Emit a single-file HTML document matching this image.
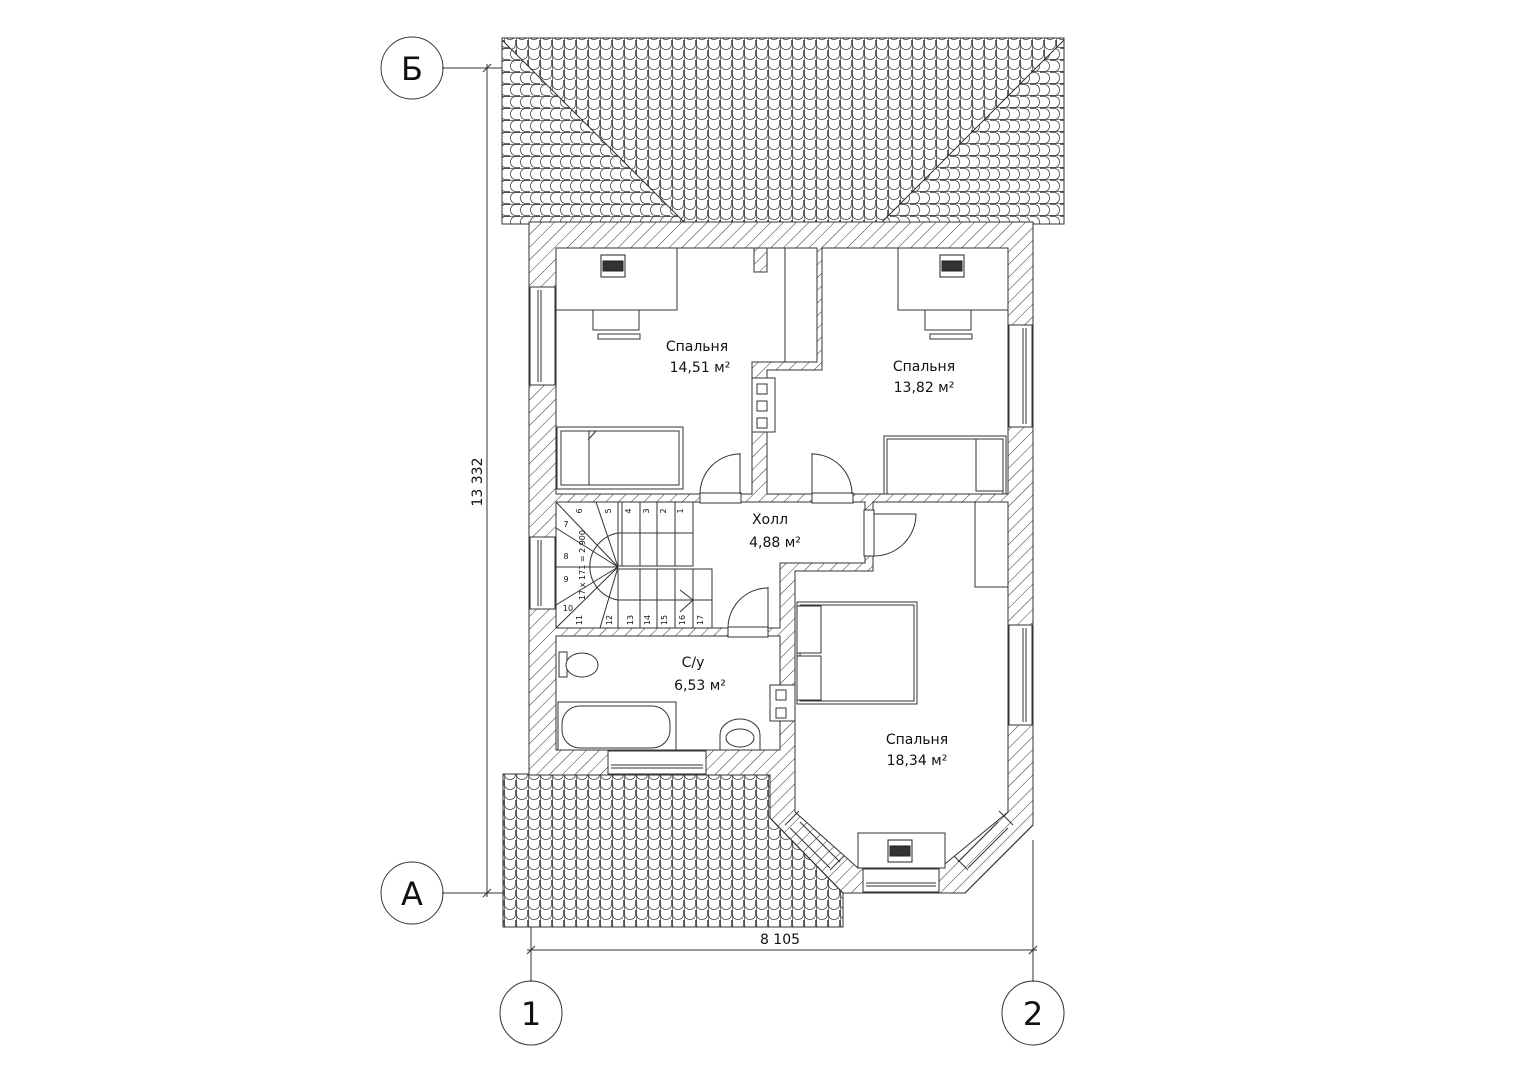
<!DOCTYPE html>
<html><head><meta charset="utf-8"><style>
html,body{margin:0;padding:0;background:#fff}
svg{display:block}
text{font-family:"DejaVu Sans","Liberation Sans",sans-serif;fill:#111}
</style></head><body>
<svg width="1528" height="1080" viewBox="0 0 1528 1080" xmlns="http://www.w3.org/2000/svg">
<defs>
<pattern id="h" width="9" height="9" patternUnits="userSpaceOnUse" patternTransform="rotate(45)">
<line x1="0" y1="0" x2="0" y2="9" stroke="#333" stroke-width="1"/>
</pattern>
<pattern id="t" width="12" height="10" patternUnits="userSpaceOnUse">
<rect width="12" height="10" fill="#fff"/>
<path d="M0.5 0 V4.5 A5.5 5 0 0 0 11.5 4.5 V0" fill="none" stroke="#444" stroke-width="0.8"/>
<line x1="0.5" y1="0" x2="0.5" y2="10" stroke="#444" stroke-width="0.7"/>
</pattern>
<pattern id="tr" width="12" height="10" patternUnits="userSpaceOnUse" patternTransform="rotate(-90)">
<rect width="12" height="10" fill="#fff"/>
<path d="M0.5 0 V4.5 A5.5 5 0 0 0 11.5 4.5 V0" fill="none" stroke="#444" stroke-width="0.8"/>
<line x1="0.5" y1="0" x2="0.5" y2="10" stroke="#444" stroke-width="0.7"/>
</pattern>
<pattern id="tl" width="12" height="10" patternUnits="userSpaceOnUse" patternTransform="rotate(90)">
<rect width="12" height="10" fill="#fff"/>
<path d="M0.5 0 V4.5 A5.5 5 0 0 0 11.5 4.5 V0" fill="none" stroke="#444" stroke-width="0.8"/>
<line x1="0.5" y1="0" x2="0.5" y2="10" stroke="#444" stroke-width="0.7"/>
</pattern>
</defs>

<!-- grid/dims -->
<g stroke="#333" stroke-width="1" fill="none">
<line x1="442" y1="68" x2="530" y2="68"/>
<line x1="442" y1="893" x2="530" y2="893"/>
<line x1="487" y1="64" x2="487" y2="897"/>
<line x1="483" y1="72" x2="491" y2="64"/><line x1="483" y1="897" x2="491" y2="889"/>
<line x1="531" y1="925" x2="531" y2="982"/>
<line x1="1033" y1="840" x2="1033" y2="982"/>
<line x1="527" y1="950" x2="1037" y2="950"/>
<line x1="527" y1="954" x2="535" y2="946"/><line x1="1029" y1="954" x2="1037" y2="946"/>
<circle cx="412" cy="68" r="31"/>
<circle cx="412" cy="893" r="31"/>
<ellipse cx="531" cy="1013" rx="31" ry="32"/>
<ellipse cx="1033" cy="1013" rx="31" ry="32"/>
</g>
<text x="412" y="80" font-size="32" text-anchor="middle">Б</text>
<text x="412" y="905" font-size="32" text-anchor="middle">А</text>
<text x="531" y="1025" font-size="32" text-anchor="middle">1</text>
<text x="1033" y="1025" font-size="32" text-anchor="middle">2</text>
<text x="780" y="944" font-size="14" text-anchor="middle">8 105</text>
<text x="0" y="0" font-size="14" text-anchor="middle" transform="translate(482,482) rotate(-90)">13 332</text>

<!-- top roof -->
<rect x="502" y="38" width="562" height="186" fill="url(#t)" stroke="#333"/>
<polygon points="502,40 686,224 502,224" fill="url(#tl)" stroke="#333"/>
<polygon points="1064,40 880,224 1064,224" fill="url(#tr)" stroke="#333"/>
<!-- bottom roof -->
<polygon points="503,774 770,774 770,818 843,893 843,927 503,927" fill="url(#t)" stroke="#333"/>

<!-- house walls hatched -->
<polygon points="529,222 1033,222 1033,825 965,893 843,893 770,818 770,775 529,775" fill="#fff" stroke="#333"/>
<polygon points="529,222 1033,222 1033,825 965,893 843,893 770,818 770,775 529,775" fill="url(#h)" stroke="#333"/>

<!-- rooms -->
<g fill="#fff" stroke="#333" stroke-width="1">
<polygon points="556,248 817,248 817,362 752,362 752,494 556,494"/>
<polygon points="822,248 1008,248 1008,494 767,494 767,370 822,370"/>
<polygon points="556,502 865,502 865,563 780,563 780,628 556,628"/>
<polygon points="556,636 780,636 780,750 556,750"/>
<polygon points="873,502 1008,502 1008,812 940,868 858,868 795,812 795,571 873,571"/>
</g>
<!-- stub & closet -->
<rect x="754" y="248" width="13" height="24" fill="url(#h)" stroke="#333"/>
<line x1="785" y1="248" x2="785" y2="362" stroke="#333"/>
<!-- vent blocks -->
<g fill="#fff" stroke="#333">
<rect x="752" y="378" width="23" height="54"/>
<rect x="757" y="384" width="10" height="10"/><rect x="757" y="401" width="10" height="10"/><rect x="757" y="418" width="10" height="10"/>
<rect x="770" y="685" width="25" height="36"/>
<rect x="776" y="690" width="10" height="10"/><rect x="776" y="708" width="10" height="10"/>
</g>

<!-- door openings -->
<g fill="#fff" stroke="#333">
<rect x="700" y="493" width="41" height="10"/>
<rect x="812" y="493" width="41" height="10"/>
<rect x="864" y="510" width="10" height="46"/>
<rect x="728" y="627" width="40" height="10"/>
<!-- windows -->
<rect x="530" y="287" width="25" height="98"/>
<rect x="530" y="537" width="25" height="72"/>
<rect x="1009" y="325" width="23" height="102"/>
<rect x="1009" y="625" width="23" height="100"/>
<rect x="608" y="751" width="98" height="23"/>
<rect x="863" y="869" width="76" height="23"/>
</g>
<g stroke="#333" fill="none" stroke-width="1">
<line x1="538" y1="290" x2="538" y2="382"/><line x1="541" y1="290" x2="541" y2="382"/>
<line x1="538" y1="540" x2="538" y2="606"/><line x1="541" y1="540" x2="541" y2="606"/>
<line x1="1023" y1="328" x2="1023" y2="424"/><line x1="1026" y1="328" x2="1026" y2="424"/>
<line x1="1023" y1="628" x2="1023" y2="722"/><line x1="1026" y1="628" x2="1026" y2="722"/>
<line x1="611" y1="765" x2="703" y2="765"/><line x1="611" y1="768" x2="703" y2="768"/>
<line x1="866" y1="883" x2="936" y2="883"/><line x1="866" y1="886" x2="936" y2="886"/>
<!-- bay windows diagonal -->
<line x1="800" y1="822" x2="840" y2="862"/><line x1="790" y1="828" x2="830" y2="868"/>
<line x1="785" y1="825" x2="799" y2="811"/><line x1="830" y1="870" x2="844" y2="856"/>
<line x1="998" y1="822" x2="958" y2="862"/><line x1="1008" y1="828" x2="968" y2="868"/>
<line x1="1013" y1="825" x2="999" y2="811"/><line x1="968" y1="870" x2="954" y2="856"/>
<!-- doors -->
<line x1="740" y1="453" x2="740" y2="494"/><path d="M700 494 A40 40 0 0 1 740 454"/>
<line x1="812" y1="453" x2="812" y2="494"/><path d="M852 494 A40 40 0 0 0 812 454"/>
<line x1="874" y1="514" x2="916" y2="514"/><path d="M916 514 A42 42 0 0 1 874 556"/>
<line x1="768" y1="587" x2="768" y2="628"/><path d="M728 628 A40 40 0 0 1 768 588"/>
</g>

<!-- stairs -->
<g stroke="#333" fill="none" stroke-width="1">
<rect x="618" y="502" width="75" height="64"/>
<line x1="622" y1="502" x2="622" y2="566"/><line x1="640" y1="502" x2="640" y2="566"/><line x1="657" y1="502" x2="657" y2="566"/><line x1="675" y1="502" x2="675" y2="566"/>
<path d="M618 533 H693"/>
<rect x="618" y="569" width="94" height="59"/>
<line x1="640" y1="569" x2="640" y2="628"/><line x1="657" y1="569" x2="657" y2="628"/><line x1="675" y1="569" x2="675" y2="628"/><line x1="693" y1="569" x2="693" y2="628"/>
<path d="M618 600 H712"/>
<path d="M618 533 A34 34 0 0 0 618 600" />
<line x1="618" y1="567" x2="556" y2="502"/>
<line x1="618" y1="567" x2="596" y2="502"/>
<line x1="618" y1="567" x2="556" y2="528"/>
<line x1="618" y1="567" x2="556" y2="567"/>
<line x1="618" y1="567" x2="556" y2="605"/>
<line x1="618" y1="567" x2="556" y2="628"/>
<line x1="618" y1="567" x2="600" y2="628"/>
<line x1="680" y1="590" x2="693" y2="600"/><line x1="680" y1="612" x2="693" y2="600"/>
</g>
<g font-size="8" text-anchor="middle">
<text transform="translate(683,511) rotate(-90)">1</text>
<text transform="translate(666,511) rotate(-90)">2</text>
<text transform="translate(649,511) rotate(-90)">3</text>
<text transform="translate(631,511) rotate(-90)">4</text>
<text transform="translate(611,511) rotate(-90)">5</text>
<text transform="translate(582,511) rotate(-90)">6</text>
<text x="566" y="527">7</text><text x="566" y="559">8</text><text x="566" y="582">9</text><text x="568" y="611">10</text>
<text transform="translate(582,620) rotate(-90)">11</text>
<text transform="translate(612,620) rotate(-90)">12</text>
<text transform="translate(633,620) rotate(-90)">13</text>
<text transform="translate(650,620) rotate(-90)">14</text>
<text transform="translate(667,620) rotate(-90)">15</text>
<text transform="translate(685,620) rotate(-90)">16</text>
<text transform="translate(703,620) rotate(-90)">17</text>
<text transform="translate(585,565) rotate(-90)">17 x 171 = 2 900</text>
</g>

<!-- furniture -->
<g stroke="#333" fill="#fff" stroke-width="1">
<rect x="556" y="248" width="121" height="62"/>
<rect x="593" y="310" width="46" height="20"/><rect x="598" y="334" width="42" height="5"/>
<rect x="557" y="427" width="126" height="62"/><rect x="561" y="431" width="118" height="54"/>
<rect x="561" y="431" width="28" height="54"/><path d="M588 440 L596 431 L679 431" />
<rect x="898" y="248" width="110" height="62"/>
<rect x="925" y="310" width="46" height="20"/><rect x="930" y="334" width="42" height="5"/>
<rect x="884" y="436" width="122" height="58"/><rect x="887" y="439" width="116" height="55"/>
<rect x="976" y="439" width="27" height="52"/>
<rect x="975" y="502" width="33" height="85"/>
<rect x="797" y="602" width="120" height="102"/><rect x="800" y="605" width="114" height="96"/>
<rect x="797" y="606" width="24" height="47"/><rect x="797" y="656" width="24" height="44"/>
<rect x="858" y="833" width="87" height="35"/>
<rect x="558" y="702" width="118" height="48"/><rect x="562" y="706" width="108" height="42" rx="18"/>
<rect x="559" y="652" width="8" height="25"/><ellipse cx="582" cy="665" rx="16" ry="12"/>
<path d="M720 750 V735 A20 16 0 0 1 760 735 V750 Z"/><ellipse cx="740" cy="738" rx="14" ry="9"/>
</g>
<!-- computers -->
<g stroke="#222" fill="#fff">
<rect x="601" y="255" width="24" height="22"/><rect x="603" y="261" width="20" height="10" fill="#333"/>
<rect x="940" y="255" width="24" height="22"/><rect x="942" y="261" width="20" height="10" fill="#333"/>
<rect x="888" y="840" width="24" height="22"/><rect x="890" y="846" width="20" height="10" fill="#333"/>
</g>

<!-- labels -->
<g font-size="14" text-anchor="middle">
<text x="697" y="351">Спальня</text><text x="700" y="372">14,51 м²</text>
<text x="924" y="371">Спальня</text><text x="924" y="392">13,82 м²</text>
<text x="770" y="524">Холл</text><text x="775" y="547">4,88 м²</text>
<text x="693" y="667">С/у</text><text x="700" y="690">6,53 м²</text>
<text x="917" y="744">Спальня</text><text x="917" y="765">18,34 м²</text>
</g>
</svg>
</body></html>
